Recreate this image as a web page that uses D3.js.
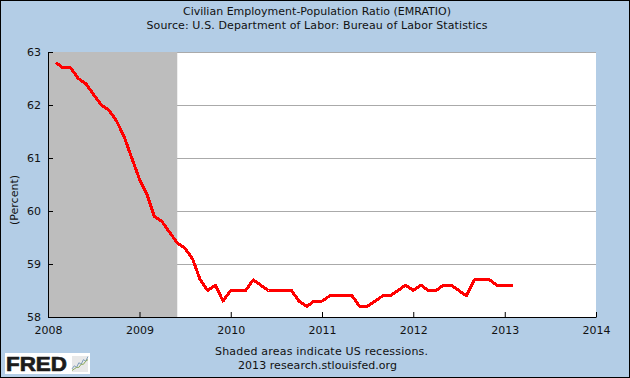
<!DOCTYPE html>
<html>
<head>
<meta charset="utf-8">
<script src="https://cdn.jsdelivr.net/npm/d3@7"></script>
<style>
  html, body { margin: 0; padding: 0; background: #b3cde6; overflow: hidden; }
  svg { display: block; }
  text { font-family: "DejaVu Sans", Verdana, sans-serif; fill: #111; }
</style>
</head>
<body>
<div id="container"></div>
<script>
// monthly values, Feb 2008 to Feb 2013
const firstMonth = new Date(2008, 1, 1);
const ratio = [
  62.8, 62.7, 62.7, 62.5, 62.4, 62.2, 62.0, 61.9, 61.7, 61.4, 61.0,
  60.6, 60.3, 59.9, 59.8, 59.6, 59.4, 59.3, 59.1, 58.7, 58.5, 58.6, 58.3,
  58.5, 58.5, 58.5, 58.7, 58.6, 58.5, 58.5, 58.5, 58.5, 58.3, 58.2, 58.3,
  58.3, 58.4, 58.4, 58.4, 58.4, 58.2, 58.2, 58.3, 58.4, 58.4, 58.5, 58.6,
  58.5, 58.6, 58.5, 58.5, 58.6, 58.6, 58.5, 58.4, 58.7, 58.7, 58.7, 58.6,
  58.6, 58.6
];
const yTicks = [58, 59, 60, 61, 62, 63];
const xYears = [2008, 2009, 2010, 2011, 2012, 2013, 2014];
const recessionStart = new Date(2008, 0, 1);
const recessionEnd = new Date(2009, 5, 1);

// little chart in the logo, in logo units
const logoBlue = [2, 4, 3, 6, 5, 8, 7, 10];
const logoGreen = [1, 2, 3, 3, 5, 5, 7, 8];

const w = 630;
const h = 378;
const plotL = 48, plotR = 596, plotT = 52, plotB = 317;

let viz = d3.select("#container")
  .append("svg")
    .attr("width", w)
    .attr("height", h)
;

let xScale = d3.scaleTime()
  .domain([new Date(2008, 0, 1), new Date(2014, 0, 1)])
  .range([plotL, plotR]);
let yScale = d3.scaleLinear().domain([58, 63]).range([plotB, plotT]);

// background and frame
viz.append("rect")
  .attr("x", 0.5).attr("y", 0.5)
  .attr("width", w - 1).attr("height", h - 1)
  .attr("fill", "#b3cde6")
  .attr("stroke", "#000")
  .attr("stroke-width", 1)
;

// plot area
viz.append("rect")
  .attr("x", plotL).attr("y", plotT)
  .attr("width", plotR - plotL).attr("height", plotB - plotT)
  .attr("fill", "#fff")
;

// grid lines
viz.selectAll(".grid").data(yTicks.slice(1)).enter()
  .append("line")
    .attr("class", "grid")
    .attr("x1", plotL).attr("x2", plotR)
    .attr("y1", d => Math.round(yScale(d)) + 0.5)
    .attr("y2", d => Math.round(yScale(d)) + 0.5)
    .attr("stroke", "#aaa")
;

// recession
viz.append("rect")
  .attr("x", xScale(recessionStart))
  .attr("y", plotT)
  .attr("width", xScale(recessionEnd) - xScale(recessionStart))
  .attr("height", plotB - plotT)
  .attr("fill", "#bdbdbd")
;

// axes
let xAxis = d3.axisBottom(xScale)
  .tickValues(xYears.map(y => new Date(y, 0, 1)))
  .tickFormat(d3.timeFormat("%Y"))
  .tickSizeInner(-5)
  .tickSizeOuter(0)
  .tickPadding(9)
;
let yAxis = d3.axisLeft(yScale)
  .tickValues(yTicks)
  .tickFormat(d3.format("d"))
  .tickSizeInner(-5)
  .tickSizeOuter(0)
  .tickPadding(7)
;
let gx = viz.append("g").attr("transform", "translate(0," + plotB + ")").call(xAxis);
let gy = viz.append("g").attr("transform", "translate(" + plotL + ",0)").call(yAxis);
viz.selectAll(".tick text").attr("font-size", 11).style("font-family", '"DejaVu Sans"').attr("fill", "#111");
viz.selectAll(".domain, .tick line").attr("stroke", "#000").attr("stroke-width", 1);

// series
let lineMaker = d3.line()
  .x((d, i) => xScale(d3.timeMonth.offset(firstMonth, i)))
  .y(d => yScale(d))
;
viz.append("path")
  .datum(ratio)
  .attr("d", lineMaker)
  .attr("fill", "none")
  .attr("stroke", "#ff0000")
  .attr("stroke-width", 3)
  .attr("stroke-linejoin", "round")
  .attr("shape-rendering", "crispEdges")
;

// titles, stretched to the widths measured on the picture
function label(txt, x, y, len) {
  return viz.append("text")
    .attr("x", x).attr("y", y)
    .attr("text-anchor", "middle")
    .attr("font-size", 11)
    .attr("textLength", len)
    .text(txt);
}
label("Civilian Employment-Population Ratio (EMRATIO)", 317, 15, 268);
label("Source: U.S. Department of Labor: Bureau of Labor Statistics", 317, 29, 341);
label("Shaded areas indicate US recessions.", 321.5, 355, 213);
label("2013 research.stlouisfed.org", 317.5, 369, 159);
viz.append("text")
  .attr("transform", "translate(17.5,200) rotate(-90)")
  .attr("text-anchor", "middle")
  .attr("font-size", 11)
  .text("(Percent)");

// FRED logo
viz.append("rect")
  .attr("x", 5).attr("y", 353)
  .attr("width", 85).attr("height", 21)
  .attr("fill", "#fff");
viz.append("text")
  .attr("x", 6).attr("y", 371)
  .attr("font-size", 21)
  .attr("font-weight", "bold")
  .attr("textLength", 61)
  .attr("lengthAdjust", "spacingAndGlyphs")
  .style("font-family", '"Liberation Sans", Arial, sans-serif')
  .style("fill", "#1c1c1c")
  .style("stroke", "#1c1c1c")
  .style("stroke-width", 0.7)
  .text("FRED");
let logoG = viz.append("g");
logoG.append("rect")
  .attr("x", 72).attr("y", 356)
  .attr("width", 16).attr("height", 16)
  .attr("fill", "#e8e8e8");
let logoX = d3.scaleLinear().domain([0, 7]).range([72, 88]);
let logoY = d3.scaleLinear().domain([0, 11]).range([372, 355]);
let logoLine = d3.line().x((d, i) => logoX(i)).y(d => logoY(d));
logoG.append("path").attr("d", logoLine(logoBlue)).attr("fill", "none").attr("stroke", "#7f9dbb");
logoG.append("path").attr("d", logoLine(logoGreen)).attr("fill", "none").attr("stroke", "#8aa85a");
</script>
</body>
</html>
